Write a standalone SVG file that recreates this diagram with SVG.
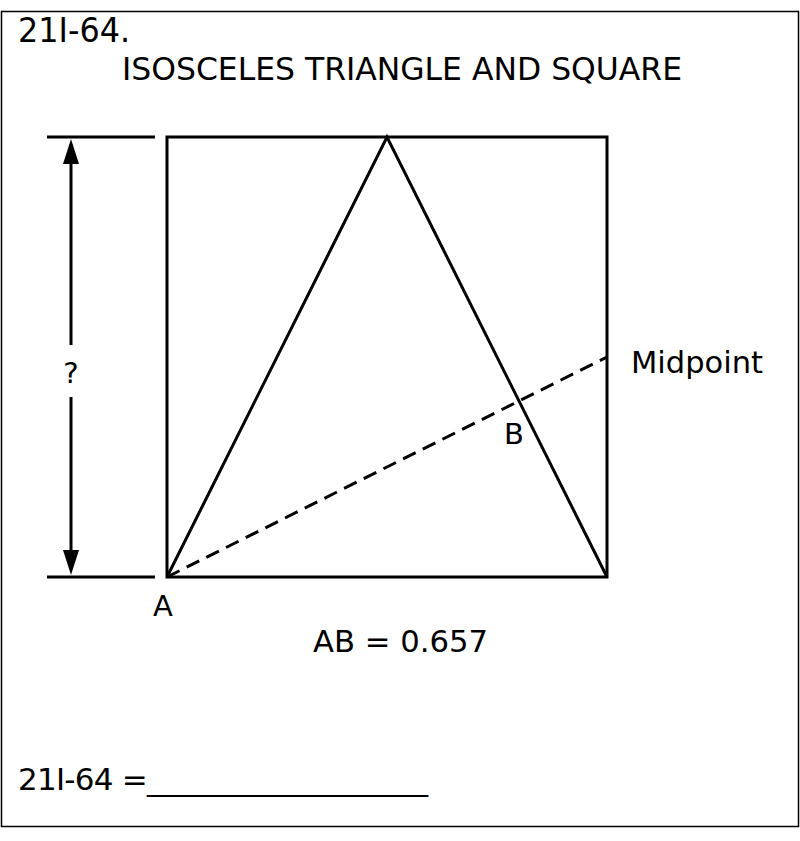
<svg xmlns="http://www.w3.org/2000/svg" width="800" height="841" viewBox="0 0 800 841">
<style>
.t{font-family:"DejaVu Sans","Liberation Sans",sans-serif;fill:#000}
.c{font-family:"DejaVu Sans Condensed","Liberation Sans Narrow","DejaVu Sans",sans-serif;font-stretch:condensed;fill:#000}
.ln{stroke:#000;stroke-width:3;fill:none}
.ah{fill:#000;stroke:none}
</style>
<rect width="800" height="841" fill="#fff"/>
<rect x="1.5" y="11.5" width="797" height="815" fill="none" stroke="#000" stroke-width="1.5"/>
<text class="c" x="18" y="42" font-size="33" textLength="112" lengthAdjust="spacingAndGlyphs">21I-64.</text>
<text class="c" x="122" y="80" font-size="32" textLength="560" lengthAdjust="spacingAndGlyphs">ISOSCELES TRIANGLE AND SQUARE</text>
<g id="square"><rect class="ln" x="167" y="137" width="440" height="440"/></g>
<g id="triangle"><path class="ln" d="M167 577 L387 137 L607 577"/></g>
<g id="connectors">
<line class="ln" x1="167" y1="577" x2="607" y2="357" stroke-dasharray="14,8"/>
<line class="ln" x1="47" y1="137" x2="155" y2="137"/>
<line class="ln" x1="47" y1="577" x2="155" y2="577"/>
<line class="ln" x1="71" y1="345" x2="71" y2="160"/>
<line class="ln" x1="71" y1="397" x2="71" y2="555"/>
<path class="ah" d="M71 139 L79 164 L63 164 Z"/>
<path class="ah" d="M71 575 L79 550 L63 550 Z"/>
</g>
<g id="labels">
<text class="t" x="71" y="383" font-size="29" text-anchor="middle">?</text>
<text class="t" x="631" y="373" font-size="31" textLength="132" lengthAdjust="spacingAndGlyphs">Midpoint</text>
<text class="t" x="514" y="444" font-size="29" text-anchor="middle">B</text>
<text class="t" x="163" y="616" font-size="29" text-anchor="middle">A</text>
<text class="t" x="313" y="652" font-size="30" textLength="175" lengthAdjust="spacingAndGlyphs">AB = 0.657</text>
<text class="t" x="18" y="790" font-size="31" textLength="410" lengthAdjust="spacing">21I-64 =___________________</text>
</g>
</svg>
